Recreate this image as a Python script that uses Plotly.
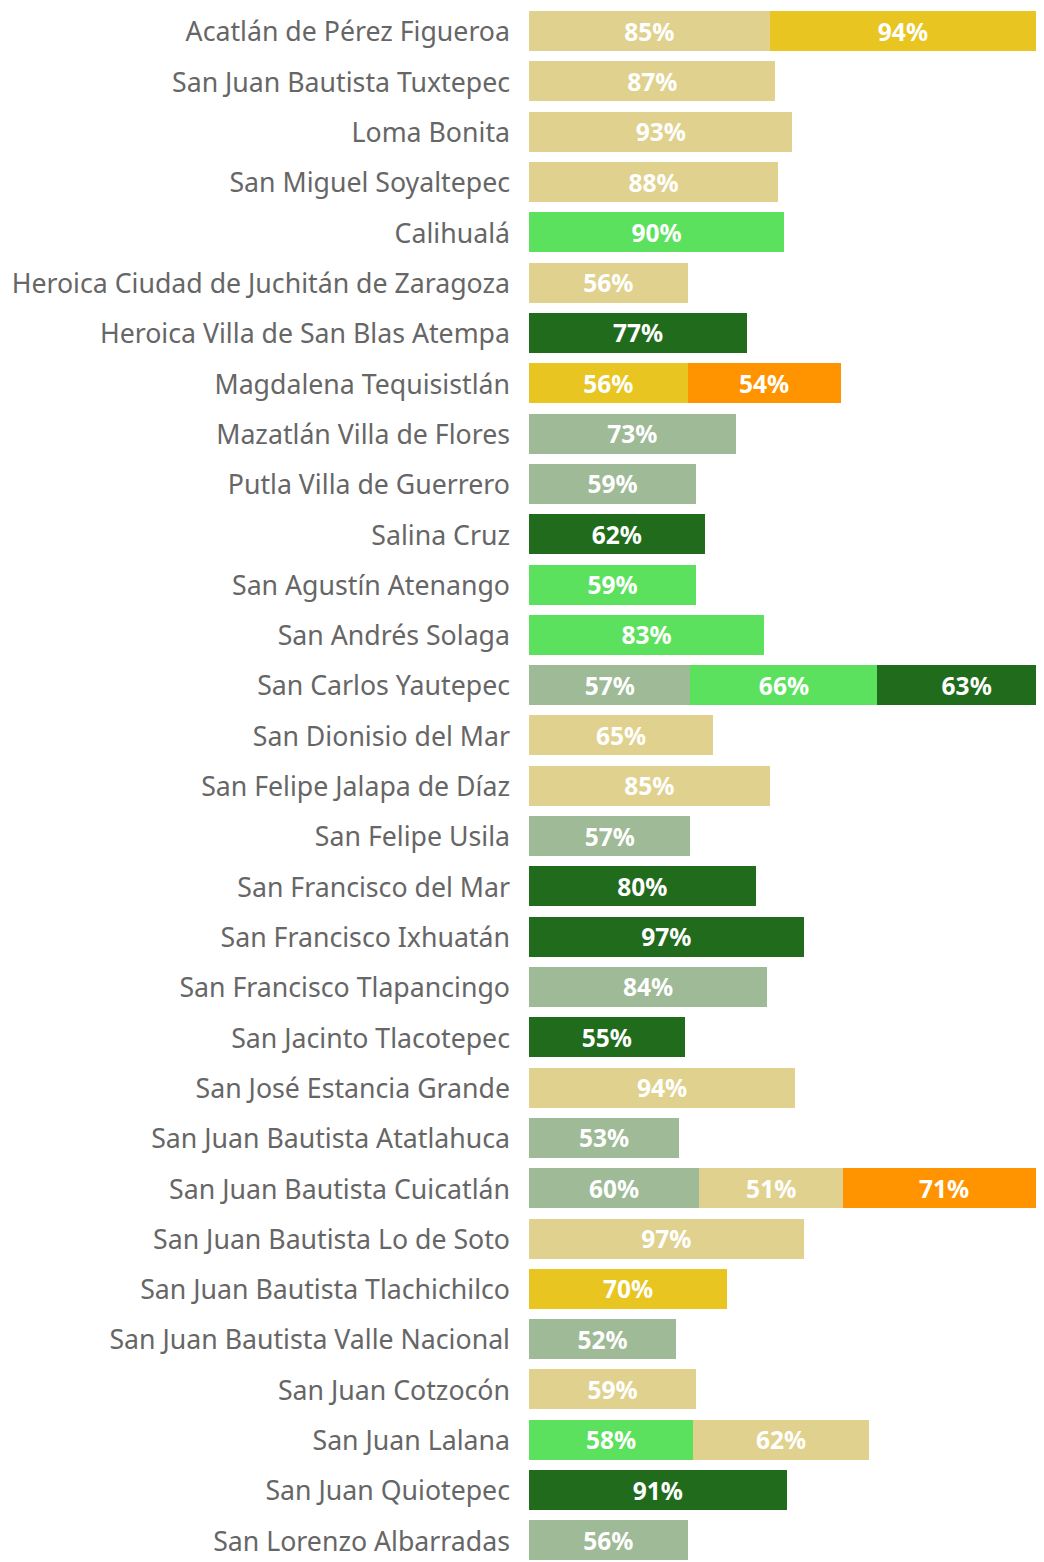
import plotly.graph_objects as go

categories = [
    "Acatlán de Pérez Figueroa", "San Juan Bautista Tuxtepec", "Loma Bonita",
    "San Miguel Soyaltepec", "Calihualá", "Heroica Ciudad de Juchitán de Zaragoza",
    "Heroica Villa de San Blas Atempa", "Magdalena Tequisistlán", "Mazatlán Villa de Flores",
    "Putla Villa de Guerrero", "Salina Cruz", "San Agustín Atenango", "San Andrés Solaga",
    "San Carlos Yautepec", "San Dionisio del Mar", "San Felipe Jalapa de Díaz",
    "San Felipe Usila", "San Francisco del Mar", "San Francisco Ixhuatán",
    "San Francisco Tlapancingo", "San Jacinto Tlacotepec", "San José Estancia Grande",
    "San Juan Bautista Atatlahuca", "San Juan Bautista Cuicatlán",
    "San Juan Bautista Lo de Soto", "San Juan Bautista Tlachichilco",
    "San Juan Bautista Valle Nacional", "San Juan Cotzocón", "San Juan Lalana",
    "San Juan Quiotepec", "San Lorenzo Albarradas",
]

# Values per series (None = no bar), in category order
sage = [None, None, None, None, None, None, None, None, 73, 59, None, None, None, 57, None,
        None, 57, None, None, 84, None, None, 53, 60, None, None, 52, None, None, None, 56]
light_green = [None, None, None, None, 90, None, None, None, None, None, None, 59, 83, 66, None,
               None, None, None, None, None, None, None, None, None, None, None, None, None, 58, None, None]
dark_green = [None, None, None, None, None, None, 77, None, None, None, 62, None, None, 63, None,
              None, None, 80, 97, None, 55, None, None, None, None, None, None, None, None, 91, None]
tan = [85, 87, 93, 88, None, 56, None, None, None, None, None, None, None, None, 65,
       85, None, None, None, None, None, 94, None, 51, 97, None, None, 59, 62, None, None]
gold = [94, None, None, None, None, None, None, 56, None, None, None, None, None, None, None,
        None, None, None, None, None, None, None, None, None, None, 70, None, None, None, None, None]
orange = [None, None, None, None, None, None, None, 54, None, None, None, None, None, None, None,
          None, None, None, None, None, None, None, None, 71, None, None, None, None, None, None, None]

series = [
    ("sage", sage, "#9EBA96"),
    ("light_green", light_green, "#5CE15E"),
    ("dark_green", dark_green, "#216B1D"),
    ("tan", tan, "#E0D28E"),
    ("gold", gold, "#E8C520"),
    ("orange", orange, "#FF9400"),
]

fig = go.Figure()
for name, vals, color in series:
    fig.add_trace(go.Bar(
        name=name,
        y=categories,
        x=vals,
        orientation="h",
        marker=dict(color=color, line=dict(width=0)),
        text=[f"{v}%" if v is not None else "" for v in vals],
        textposition="inside",
        insidetextanchor="middle",
        textangle=0,
        textfont=dict(family="Noto Sans", size=26, color="white", weight="bold"),
        hoverinfo="skip",
    ))

fig.update_layout(
    barmode="stack",
    bargap=0.205,
    width=1036,
    height=1554,
    margin=dict(l=521, r=0, t=0, b=0),
    showlegend=False,
    plot_bgcolor="white",
    paper_bgcolor="white",
    uniformtext=dict(minsize=10, mode="show"),
    xaxis=dict(range=[0, 181.8], showgrid=False, zeroline=False, showticklabels=False,
               showline=False, fixedrange=True),
    yaxis=dict(
        categoryorder="array",
        categoryarray=categories,
        range=[30.43, -0.46],
        showgrid=False, zeroline=False, showline=False,
        ticks="", ticklabelstandoff=18, ticklabelshift=-1,
        tickfont=dict(family="Noto Sans", size=26.7, color="#666666"),
        automargin=False,
    ),
)

fig.write_html("out.html")
